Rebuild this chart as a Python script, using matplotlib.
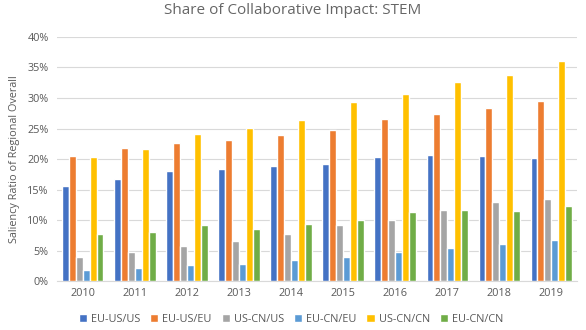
import matplotlib.pyplot as plt
import numpy as np
from matplotlib.ticker import PercentFormatter

years = ['2010', '2011', '2012', '2013', '2014', '2015', '2016', '2017', '2018', '2019']
series_names = ['EU-US/US', 'EU-US/EU', 'US-CN/US', 'EU-CN/EU', 'US-CN/CN', 'EU-CN/CN']

eu_us_us = [15.6, 16.8, 18.0, 18.3, 18.8, 19.2, 20.4, 20.6, 20.5, 20.2]
eu_us_eu = [20.5, 21.8, 22.7, 23.2, 24.0, 24.7, 26.5, 27.4, 28.3, 29.5]
us_cn_us = [3.9, 4.7, 5.7, 6.6, 7.7, 9.2, 10.0, 11.6, 12.9, 13.4]
eu_cn_eu = [1.9, 2.2, 2.7, 2.8, 3.5, 3.9, 4.7, 5.4, 6.1, 6.7]
us_cn_cn = [20.3, 21.7, 24.1, 25.1, 26.4, 29.4, 30.6, 32.6, 33.7, 36.0]
eu_cn_cn = [7.8, 8.0, 9.2, 8.6, 9.4, 10.0, 11.3, 11.6, 11.5, 12.3]

series = [eu_us_us, eu_us_eu, us_cn_us, eu_cn_eu, us_cn_cn, eu_cn_cn]
colours = ['#4472C4', '#ED7D31', '#A5A5A5', '#5B9BD5', '#FFC000', '#70AD47']

plt.rcParams['font.family'] = ['Open Sans', 'DejaVu Sans']

fig = plt.figure(figsize=(5.86, 3.30), dpi=100)
ax = fig.add_axes([0.097, 0.148, 0.888, 0.74])

x = np.arange(len(years))
bar_w = 0.132
for i, (vals, name, col) in enumerate(zip(series, series_names, colours)):
    offset = (i - 2.5) * bar_w
    ax.bar(x + offset, vals, width=bar_w, color=col, edgecolor='white',
           linewidth=1.0, label=name, zorder=3)

ax.set_xlim(-0.5, len(years) - 0.5)
ax.set_ylim(0, 40)
ax.set_yticks(np.arange(0, 41, 5))
ax.yaxis.set_major_formatter(PercentFormatter(decimals=0))
ax.set_xticks(x)
ax.set_xticklabels(years)
ax.grid(axis='y', color='#D9D9D9', linewidth=0.8, zorder=0)

for s in ['top', 'right', 'left']:
    ax.spines[s].set_visible(False)
ax.spines['bottom'].set_color('#D9D9D9')
ax.tick_params(axis='both', length=0, colors='#595959', labelsize=7.8)
ax.tick_params(axis='x', pad=5)
ax.tick_params(axis='y', pad=6)

ax.set_ylabel('Saliency Ratio of Regional Overall', fontsize=7.8, color='#595959', labelpad=5)
fig.suptitle('Share of Collaborative Impact: STEM', fontsize=11, color='#666666', y=0.99)

ax.legend(loc='upper center', bbox_to_anchor=(0.45, -0.095), ncol=6, frameon=False,
          fontsize=7.8, handlelength=0.75, handleheight=0.75, handletextpad=0.4,
          columnspacing=0.9, labelcolor='#595959')

fig.savefig('out.png', dpi=100)
